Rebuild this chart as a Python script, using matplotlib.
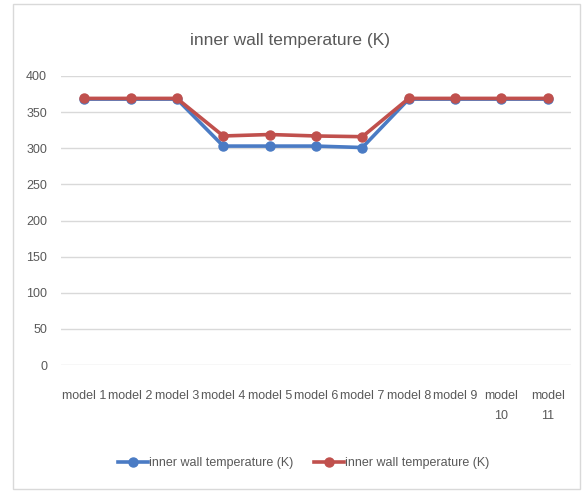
import matplotlib
matplotlib.use("Agg")
import matplotlib.pyplot as plt
from matplotlib.patches import Rectangle

categories = ["model 1", "model 2", "model 3", "model 4", "model 5", "model 6",
              "model 7", "model 8", "model 9", "model\n10", "model\n11"]
blue_values = [368, 368, 368, 303, 303, 303, 301, 368, 368, 368, 368]
red_values = [369, 369, 369, 317, 319, 317, 316, 369, 369, 369, 369]
series_names = ["inner wall temperature (K)", "inner wall temperature (K)"]
yticks = [0, 50, 100, 150, 200, 250, 300, 350, 400]
title = "inner wall temperature (K)"

plt.rcParams["font.family"] = ["Liberation Sans", "DejaVu Sans"]

txt = "#595959"
fig = plt.figure(figsize=(5.84, 4.91), dpi=100)
fig.patches.append(Rectangle((13/584, 2/491), 567/584, 485/491, transform=fig.transFigure,
                             fill=False, edgecolor="#d9d9d9", linewidth=1))
ax = fig.add_axes([61/584, 1 - 365/491, 510/584, 289/491])
x = list(range(len(categories)))
ax.plot(x, blue_values, color="#4a7bc4", lw=2.6, marker="o", ms=6.5, label=series_names[0], zorder=3)
ax.plot(x, red_values, color="#c0504d", lw=2.6, marker="o", ms=6.5, label=series_names[1], zorder=4)
ax.set_xlim(-0.5, len(categories) - 0.5)
ax.set_ylim(0, 400)
ax.set_yticks(yticks)
ax.set_xticks(x)
ax.set_xticklabels(categories, va="top", ha="center", linespacing=1.9)
ax.tick_params(axis="both", length=0, colors=txt, labelsize=9)
ax.tick_params(axis="y", pad=10)
ax.tick_params(axis="x", pad=18)
ax.grid(axis="y", color="#d9d9d9", lw=1)
ax.set_axisbelow(True)
for s in ax.spines.values():
    s.set_visible(False)
fig.text(0.497, 1 - 40/491, title, ha="center", va="center", fontsize=12.5, color=txt)
fig.legend(loc="center", bbox_to_anchor=(0.52, 1 - 463/491), ncol=2, frameon=False,
           fontsize=9, labelcolor=txt, handlelength=2.4, handletextpad=0.1, columnspacing=1.6)
fig.savefig("out.png", dpi=100)
